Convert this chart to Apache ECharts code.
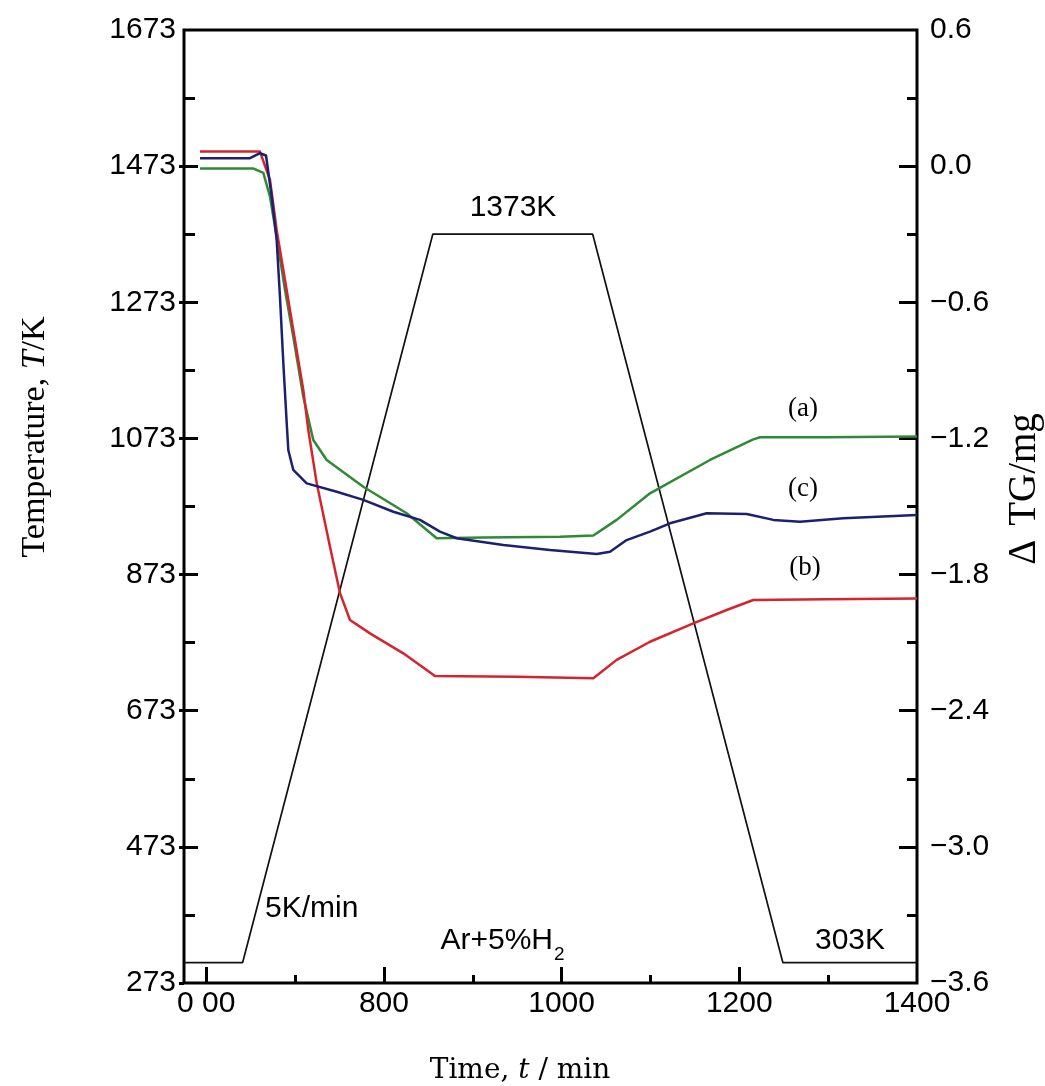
<!DOCTYPE html>
<html>
<head>
<meta charset="utf-8">
<script src="https://cdn.jsdelivr.net/npm/echarts@6/dist/echarts.min.js"></script>
<style>
  html, body { margin: 0; padding: 0; background: #fff; }
  #chart { width: 1045px; height: 1086px; }
</style>
</head>
<body>
<div id="chart"></div>
<script>
// Axis ticks and labels
const timeTicks = [600, 800, 1000, 1200, 1400];
const timeTickLabels = ['0 00', '800', '1000', '1200', '1400'];
const timeMinorTicks = [700, 900, 1100, 1300];
const tempTicks = [273, 473, 673, 873, 1073, 1273, 1473, 1673];
const tempMinorTicks = [373, 573, 773, 973, 1173, 1373, 1573];
const tgTicks = [-3.6, -3.0, -2.4, -1.8, -1.2, -0.6, 0.0, 0.6];
const tgTickLabels = ['\u22123.6', '\u22123.0', '\u22122.4', '\u22121.8', '\u22121.2', '\u22120.6', '0.0', '0.6'];
const tgMinorTicks = [-3.3, -2.7, -2.1, -1.5, -0.9, -0.3, 0.3];

// Heating programme: hold, 5 K/min ramp, hold at 1373 K, cool to 303 K
const programTime = [575, 641, 855, 1035, 1249, 1400];
const programTemp = [303, 303, 1373, 1373, 303, 303];

// Mass change (a)
const tgATime = [593, 652.7, 664.3, 671.8, 679.3, 688.7, 698.0, 709.3, 720.5, 735.6, 776.8, 825.6, 859.4, 911.9, 998.2, 1035.7, 1062.0, 1099.5, 1167.0, 1215.7, 1223.3, 1298.4, 1400];
const tgAMass = [-0.01, -0.01, -0.03, -0.135, -0.311, -0.546, -0.752, -1.016, -1.207, -1.295, -1.413, -1.530, -1.640, -1.637, -1.633, -1.628, -1.559, -1.442, -1.295, -1.204, -1.195, -1.195, -1.191];

// Mass change (b)
const tgBTime = [593, 660.5, 671.8, 679.3, 686.8, 698.0, 709.3, 714.9, 724.4, 739.3, 750.6, 761.8, 784.3, 821.8, 857.5, 949.4, 1035.7, 1062.0, 1099.5, 1148.2, 1185.8, 1215.7, 1298.4, 1400];
const tgBMass = [0.064, 0.064, -0.061, -0.281, -0.458, -0.722, -0.987, -1.163, -1.398, -1.677, -1.882, -2.000, -2.059, -2.147, -2.247, -2.250, -2.257, -2.176, -2.096, -2.015, -1.956, -1.912, -1.909, -1.906];

// Mass change (c)
const tgCTime = [593, 649.3, 660.5, 667.3, 673.7, 679.3, 683.0, 686.8, 690.6, 692.4, 698.0, 713.1, 746.9, 776.8, 810.6, 840.6, 863.1, 881.9, 934.4, 986.9, 1039.5, 1054.5, 1073.2, 1099.5, 1122.0, 1163.3, 1208.3, 1238.3, 1268.3, 1317.0, 1400];
const tgCMass = [0.035, 0.035, 0.057, 0.047, -0.135, -0.325, -0.575, -0.868, -1.132, -1.251, -1.339, -1.398, -1.435, -1.471, -1.523, -1.559, -1.611, -1.640, -1.670, -1.692, -1.709, -1.699, -1.648, -1.611, -1.574, -1.530, -1.533, -1.559, -1.567, -1.552, -1.537];

const pairs = (xs, ys) => xs.map((x, i) => [x, ys[i]]);
const labelFor = (ticks, labels) => (v) => {
  let best = 0;
  ticks.forEach((t, i) => { if (Math.abs(t - v) < Math.abs(ticks[best] - v)) best = i; });
  return labels[best];
};

const SANS = 'Liberation Sans';
const SERIF = 'Liberation Serif';
const tickStyle = { color: '#000', width: 3 };
const baseLabel = { color: '#000', fontFamily: SANS, fontSize: 30 };
const noLine = { show: false, onZero: false };

const chart = echarts.init(document.getElementById('chart'), null, { renderer: 'canvas' });

const tgLine = (name, color, times, masses, z) => ({
  name, type: 'line', xAxisIndex: 0, yAxisIndex: 2, symbol: 'none',
  lineStyle: { color, width: 2.5, join: 'round' }, data: pairs(times, masses), z
});

chart.setOption({
  animation: false,
  backgroundColor: '#fff',
  grid: { left: 184, right: 128, top: 30, bottom: 103, show: true, borderColor: '#000', borderWidth: 3, backgroundColor: 'transparent' },
  xAxis: [
    {
      type: 'value', min: 575, max: 1400, position: 'bottom',
      axisLine: noLine, splitLine: { show: false },
      axisTick: { inside: true, length: 16, lineStyle: tickStyle, customValues: [600, 800, 1000, 1200] },
      axisLabel: Object.assign({}, baseLabel, { margin: 6, customValues: timeTicks, formatter: labelFor(timeTicks, timeTickLabels) })
    },
    {
      type: 'value', min: 575, max: 1400, position: 'bottom',
      axisLine: noLine, splitLine: { show: false }, axisLabel: { show: false },
      axisTick: { inside: true, length: 8, lineStyle: tickStyle, customValues: timeMinorTicks }
    }
  ],
  yAxis: [
    {
      type: 'value', min: 273, max: 1673, position: 'left',
      axisLine: noLine, splitLine: { show: false },
      axisTick: { inside: true, length: 14, lineStyle: tickStyle, customValues: tempTicks.slice(1, -1) },
      axisLabel: Object.assign({}, baseLabel, { margin: 8, customValues: tempTicks, formatter: (v) => String(Math.round(v)) })
    },
    {
      type: 'value', min: 273, max: 1673, position: 'left',
      axisLine: noLine, splitLine: { show: false }, axisLabel: { show: false },
      axisTick: { inside: true, length: 11, lineStyle: tickStyle, customValues: tempMinorTicks }
    },
    {
      type: 'value', min: -3.6, max: 0.6, position: 'right',
      axisLine: noLine, splitLine: { show: false },
      axisTick: { inside: true, length: 18, lineStyle: tickStyle, customValues: tgTicks.slice(1, -1) },
      axisLabel: Object.assign({}, baseLabel, { margin: 13, customValues: tgTicks, formatter: labelFor(tgTicks, tgTickLabels) })
    },
    {
      type: 'value', min: -3.6, max: 0.6, position: 'right',
      axisLine: noLine, splitLine: { show: false }, axisLabel: { show: false },
      axisTick: { inside: true, length: 10, lineStyle: tickStyle, customValues: tgMinorTicks }
    },
    {
      type: 'value', min: 273, max: 1673, position: 'left',
      axisLine: noLine, splitLine: { show: false }, axisLabel: { show: false },
      axisTick: { inside: false, length: 5, lineStyle: tickStyle, customValues: tempTicks.slice(0, -1) }
    }
  ],
  series: [
    {
      name: 'T', type: 'line', xAxisIndex: 0, yAxisIndex: 0, symbol: 'none',
      lineStyle: { color: '#111', width: 1.7 }, data: pairs(programTime, programTemp), z: 3
    },
    tgLine('(a)', '#2f8a36', tgATime, tgAMass, 4),
    tgLine('(b)', '#d6242e', tgBTime, tgBMass, 4),
    tgLine('(c)', '#1c2070', tgCTime, tgCMass, 5)
  ],
  graphic: [
    // axis titles
    {
      type: 'text', x: 35, y: 437, rotation: Math.PI / 2,
      style: {
        text: '{n|Temperature, }{i|T}{n|/K}',
        align: 'center', verticalAlign: 'middle', textAlign: 'center', textVerticalAlign: 'middle',
        rich: {
          n: { fontFamily: SERIF, fontSize: 34, fill: '#000' },
          i: { fontFamily: SERIF, fontSize: 34, fontStyle: 'italic', fill: '#000' }
        }
      }
    },
    {
      type: 'text', x: 1025, y: 489, rotation: Math.PI / 2,
      style: {
        text: '{d|\u0394}{n|TG/mg}',
        align: 'center', verticalAlign: 'middle', textAlign: 'center', textVerticalAlign: 'middle',
        rich: {
          d: { fontFamily: SERIF, fontSize: 39, fill: '#000', padding: [0, 14, 0, 0] },
          n: { fontFamily: SERIF, fontSize: 39, fill: '#000' }
        }
      }
    },
    {
      type: 'text', x: 520, y: 1071,
      style: {
        text: '{n|Time, }{i|t}{n| / min}',
        align: 'center', verticalAlign: 'middle', textAlign: 'center', textVerticalAlign: 'middle',
        rich: {
          n: { fontFamily: 'DejaVu Serif', fontSize: 28, fill: '#000' },
          i: { fontFamily: 'DejaVu Serif', fontSize: 28, fontStyle: 'italic', fill: '#000' }
        }
      }
    },
    // annotations
    {
      type: 'text', x: 513, y: 208,
      style: { text: '1373K', fontFamily: SANS, fontSize: 30, fill: '#000', align: 'center', verticalAlign: 'middle', textAlign: 'center', textVerticalAlign: 'middle' }
    },
    {
      type: 'text', x: 265, y: 909,
      style: { text: '5K/min', fontFamily: SANS, fontSize: 30, fill: '#000', align: 'left', verticalAlign: 'middle', textAlign: 'left', textVerticalAlign: 'middle' }
    },
    {
      type: 'text', x: 815, y: 941,
      style: { text: '303K', fontFamily: SANS, fontSize: 30, fill: '#000', align: 'left', verticalAlign: 'middle', textAlign: 'left', textVerticalAlign: 'middle' }
    },
    {
      type: 'text', x: 553, y: 941,
      style: { text: 'Ar+5%H', fontFamily: SANS, fontSize: 30, fill: '#000', align: 'right', verticalAlign: 'middle', textAlign: 'right', textVerticalAlign: 'middle' }
    },
    {
      type: 'text', x: 554, y: 955,
      style: { text: '2', fontFamily: SANS, fontSize: 19, fill: '#000', align: 'left', verticalAlign: 'middle', textAlign: 'left', textVerticalAlign: 'middle' }
    },
    {
      type: 'text', x: 803, y: 409,
      style: { text: '(a)', fontFamily: SERIF, fontSize: 27, fill: '#000', align: 'center', verticalAlign: 'middle', textAlign: 'center', textVerticalAlign: 'middle' }
    },
    {
      type: 'text', x: 803, y: 489,
      style: { text: '(c)', fontFamily: SERIF, fontSize: 27, fill: '#000', align: 'center', verticalAlign: 'middle', textAlign: 'center', textVerticalAlign: 'middle' }
    },
    {
      type: 'text', x: 805, y: 568,
      style: { text: '(b)', fontFamily: SERIF, fontSize: 27, fill: '#000', align: 'center', verticalAlign: 'middle', textAlign: 'center', textVerticalAlign: 'middle' }
    }
  ]
});
</script>
</body>
</html>
